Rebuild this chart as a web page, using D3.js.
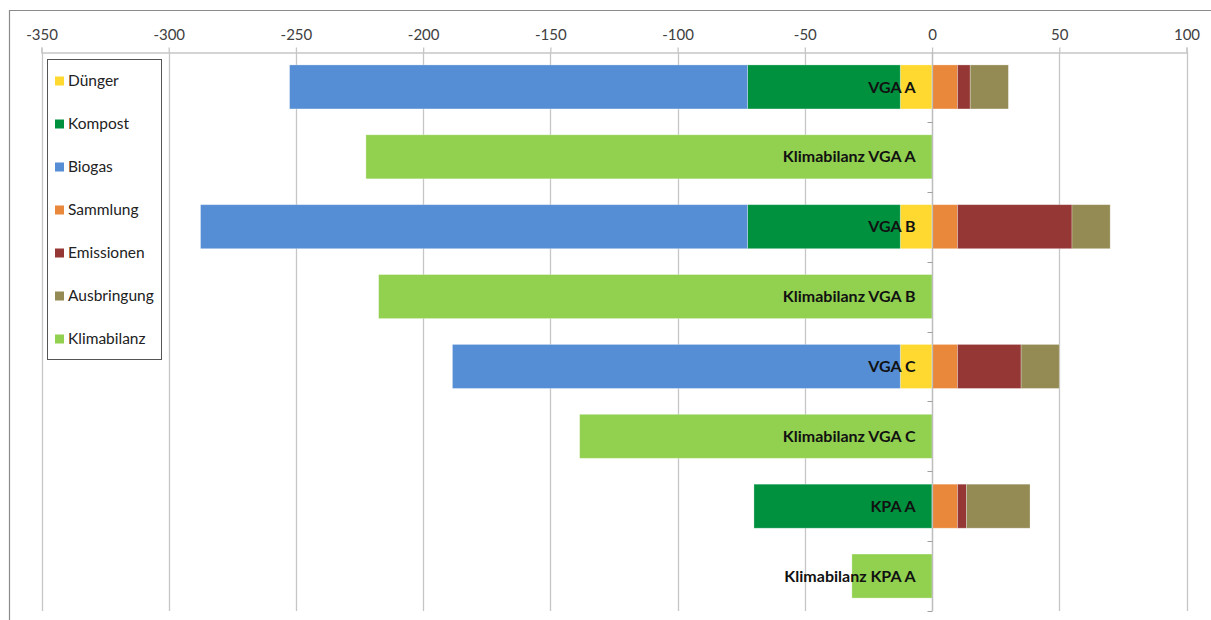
<!DOCTYPE html>
<html>
<head>
<meta charset="utf-8">
<script src="https://cdn.jsdelivr.net/npm/d3@7"></script>
<style>
  html, body { margin: 0; padding: 0; background: #fff; }
  svg { display: block; }
  text { font-family: Lato, "Open Sans", sans-serif; }
</style>
</head>
<body>
<div id="chart"></div>
<script>
// Categories, top to bottom
const categories = [
  "VGA A", "Klimabilanz VGA A",
  "VGA B", "Klimabilanz VGA B",
  "VGA C", "Klimabilanz VGA C",
  "KPA A", "Klimabilanz KPA A"
];

// Series values per category (kg CO2-eq, 0 where not present)
const duenger     = [-12.5, 0, -12.5, 0, -12.5, 0, 0, 0];
const kompost     = [-60, 0, -60, 0, 0, 0, -70, 0];
const biogas      = [-180, 0, -215, 0, -176, 0, 0, 0];
const sammlung    = [10, 0, 10, 0, 10, 0, 10, 0];
const emissionen  = [5, 0, 45, 0, 25, 0, 3.5, 0];
const ausbringung = [15, 0, 15, 0, 15, 0, 25, 0];
const klimabilanz = [0, -222.5, 0, -217.5, 0, -138.5, 0, -31.5];

const seriesNames = ["Dünger", "Kompost", "Biogas", "Sammlung", "Emissionen", "Ausbringung", "Klimabilanz"];
const seriesColors = ["#FFD92F", "#00913F", "#558ED5", "#E9883A", "#953735", "#948A54", "#92D050"];
const seriesValues = [duenger, kompost, biogas, sammlung, emissionen, ausbringung, klimabilanz];

const xTicks = [-350, -300, -250, -200, -150, -100, -50, 0, 50, 100];

const W = 1211, H = 620;
const plot = { left: 41.5, right: 1186.5, top: 52, bottom: 611 };

const svg = d3.select("#chart").append("svg")
  .attr("width", W).attr("height", H);

// outer chart frame (runs off the right and bottom edge)
svg.append("path")
  .attr("d", `M9.5,${H} V10.5 H${W}`)
  .attr("fill", "none").attr("stroke", "#8a8a8a").attr("stroke-width", 1.2);

const x = d3.scaleLinear().domain([-350, 100]).range([plot.left, plot.right]);
const y = d3.scaleBand().domain(categories).range([plot.top, plot.bottom])
  .paddingInner(0.37).paddingOuter(0.185);

// vertical gridlines
svg.append("g").selectAll("line").data(xTicks).join("line")
  .attr("x1", d => Math.round(x(d)) + 0.5).attr("x2", d => Math.round(x(d)) + 0.5)
  .attr("y1", plot.top).attr("y2", plot.bottom)
  .attr("stroke", "#c6c6c6").attr("stroke-width", 1.3);

// top value axis
const xAxis = svg.append("g")
  .attr("transform", `translate(0,${plot.top + 0.5})`)
  .call(d3.axisTop(x).tickValues(xTicks).tickSize(5).tickPadding(8)
    .tickFormat(d => d3.format("d")(d).replace("−", "-")));
xAxis.select(".domain").attr("stroke", "#c6c6c6").attr("stroke-width", 1.3);
xAxis.selectAll(".tick line").attr("stroke", "#c6c6c6").attr("stroke-width", 1.3);
xAxis.selectAll(".tick text").attr("font-size", 15).attr("fill", "#404040")
  .attr("font-family", "Lato, 'Open Sans', sans-serif");

// stacked bars: negatives stack leftward from 0, positives rightward
const segments = [];
categories.forEach((cat, i) => {
  let neg = 0, pos = 0;
  seriesValues.forEach((vals, s) => {
    const v = vals[i];
    if (!v) return;
    let x0, x1;
    if (v < 0) { x0 = neg + v; x1 = neg; neg += v; }
    else { x0 = pos; x1 = pos + v; pos += v; }
    segments.push({ cat, s, x0, x1 });
  });
});

svg.append("g").selectAll("rect").data(segments).join("rect")
  .attr("x", d => x(d.x0))
  .attr("width", d => x(d.x1) - x(d.x0))
  .attr("y", d => y(d.cat))
  .attr("height", y.bandwidth())
  .attr("fill", d => seriesColors[d.s])
  .attr("stroke", "rgba(255,255,255,0.35)").attr("stroke-width", 0.8);

// category axis at zero, with tick marks between categories
const zx = Math.round(x(0)) + 0.5;
const catAxis = svg.append("g");
catAxis.append("line")
  .attr("x1", zx).attr("x2", zx).attr("y1", plot.top).attr("y2", plot.bottom)
  .attr("stroke", "#bdbdbd").attr("stroke-width", 1.3);
const bounds = d3.range(categories.length + 1).map(k => plot.top + k * y.step());
catAxis.selectAll("line.tk").data(bounds.slice(1)).join("line")
  .attr("class", "tk")
  .attr("x1", zx - 5).attr("x2", zx)
  .attr("y1", d => Math.round(d) + 0.5).attr("y2", d => Math.round(d) + 0.5)
  .attr("stroke", "#a0a0a0").attr("stroke-width", 1);
catAxis.selectAll("text").data(categories).join("text")
  .attr("x", zx - 17)
  .attr("y", d => y(d) + y.bandwidth() / 2)
  .attr("dy", "0.35em")
  .attr("text-anchor", "end")
  .attr("font-size", 16).attr("font-weight", "bold").attr("fill", "#111")
  .text(d => d);

// legend
const lg = svg.append("g");
lg.append("rect")
  .attr("x", 47.5).attr("y", 59.5).attr("width", 114).attr("height", 300)
  .attr("fill", "#fff").attr("stroke", "#555").attr("stroke-width", 1);
const items = lg.selectAll("g.item").data(seriesNames).join("g")
  .attr("class", "item")
  .attr("transform", (d, i) => `translate(55,${81 + i * 43})`);
items.append("rect")
  .attr("x", 0).attr("y", -4.5).attr("width", 9).attr("height", 9)
  .attr("fill", (d, i) => seriesColors[i]);
items.append("text")
  .attr("x", 13).attr("y", 0).attr("dy", "0.35em")
  .attr("font-size", 15.5).attr("fill", "#222")
  .text(d => d);
</script>
</body>
</html>
